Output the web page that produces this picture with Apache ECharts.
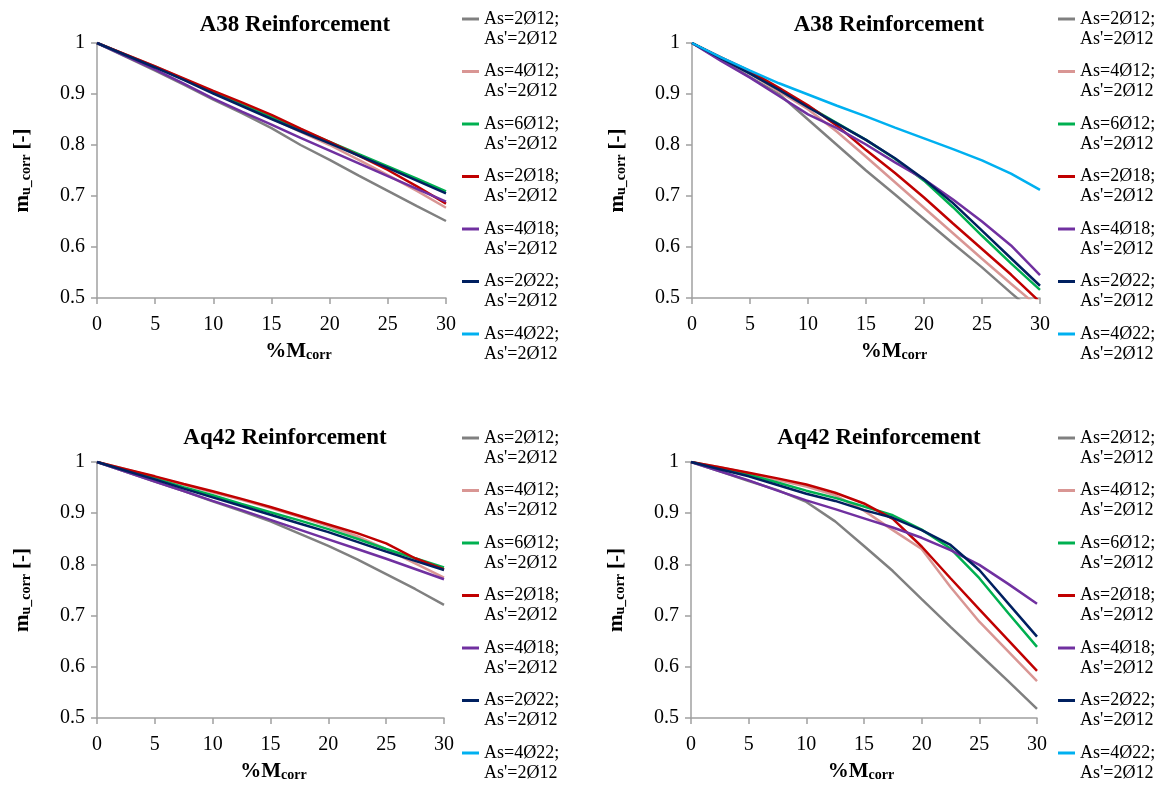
<!DOCTYPE html>
<html>
<head>
<meta charset="utf-8">
<script src="https://cdn.jsdelivr.net/npm/echarts@6/dist/echarts.min.js"></script>
<style>
  html, body { margin: 0; padding: 0; background: #fff; }
  #main { width: 1158px; height: 787px; }
</style>
</head>
<body>
<div id="main"></div>
<script>
// x values (% of corrosion)
var corrosion = [0, 2.5, 5, 7.5, 10, 12.5, 15, 17.5, 20, 22.5, 25, 27.5, 30];

var seriesNames = [
  "As=2Ø12;\nAs'=2Ø12",
  "As=4Ø12;\nAs'=2Ø12",
  "As=6Ø12;\nAs'=2Ø12",
  "As=2Ø18;\nAs'=2Ø12",
  "As=4Ø18;\nAs'=2Ø12",
  "As=2Ø22;\nAs'=2Ø12",
  "As=4Ø22;\nAs'=2Ø12"
];
var colors = ['#808080', '#d99694', '#00b050', '#c00000', '#7030a0', '#002060', '#00b0f0'];

var panelTitles = ['A38 Reinforcement', 'A38 Reinforcement', 'Aq42 Reinforcement', 'Aq42 Reinforcement'];

// top left - A38
var tl2d12 = [1, 0.973, 0.946, 0.918, 0.889, 0.862, 0.833, 0.800, 0.771, 0.740, 0.710, 0.680, 0.651];
var tl4d12 = [1, 0.977, 0.954, 0.929, 0.903, 0.878, 0.852, 0.826, 0.800, 0.771, 0.741, 0.710, 0.677];
var tl6d12 = [1, 0.976, 0.953, 0.928, 0.903, 0.879, 0.855, 0.830, 0.806, 0.782, 0.758, 0.734, 0.709];
var tl2d18 = [1, 0.977, 0.954, 0.930, 0.906, 0.883, 0.859, 0.832, 0.806, 0.779, 0.751, 0.719, 0.685];
var tl4d18 = [1, 0.974, 0.948, 0.920, 0.891, 0.865, 0.840, 0.814, 0.789, 0.764, 0.739, 0.714, 0.689];
var tl2d22 = [1, 0.976, 0.952, 0.927, 0.901, 0.876, 0.851, 0.827, 0.803, 0.779, 0.755, 0.730, 0.705];

// top right - A38
var tr2d12 = [1, 0.967, 0.933, 0.900, 0.850, 0.800, 0.750, 0.703, 0.655, 0.607, 0.560, 0.510, 0.462];
var tr4d12 = [1, 0.970, 0.940, 0.905, 0.870, 0.826, 0.777, 0.727, 0.677, 0.627, 0.577, 0.528, 0.480];
var tr6d12 = [1, 0.971, 0.942, 0.910, 0.876, 0.843, 0.810, 0.773, 0.730, 0.678, 0.622, 0.568, 0.516];
var tr2d18 = [1, 0.972, 0.945, 0.912, 0.878, 0.838, 0.790, 0.745, 0.697, 0.646, 0.596, 0.546, 0.492];
var tr4d18 = [1, 0.965, 0.932, 0.896, 0.860, 0.833, 0.801, 0.766, 0.733, 0.693, 0.650, 0.603, 0.545];
var tr2d22 = [1, 0.970, 0.940, 0.908, 0.874, 0.842, 0.810, 0.774, 0.733, 0.686, 0.632, 0.578, 0.524];
var tr4d22 = [1, 0.972, 0.946, 0.921, 0.899, 0.877, 0.856, 0.834, 0.813, 0.792, 0.770, 0.744, 0.712];

// bottom left - Aq42
var bl2d12 = [1, 0.981, 0.962, 0.943, 0.923, 0.904, 0.884, 0.860, 0.836, 0.810, 0.781, 0.752, 0.721];
var bl4d12 = [1, 0.986, 0.971, 0.956, 0.941, 0.926, 0.910, 0.893, 0.875, 0.855, 0.830, 0.802, 0.774];
var bl6d12 = [1, 0.984, 0.968, 0.951, 0.935, 0.918, 0.902, 0.886, 0.869, 0.850, 0.830, 0.812, 0.794];
var bl2d18 = [1, 0.986, 0.972, 0.957, 0.943, 0.928, 0.912, 0.895, 0.878, 0.861, 0.841, 0.812, 0.790];
var bl4d18 = [1, 0.981, 0.962, 0.943, 0.924, 0.906, 0.887, 0.868, 0.849, 0.830, 0.811, 0.791, 0.771];
var bl2d22 = [1, 0.983, 0.966, 0.948, 0.931, 0.914, 0.897, 0.880, 0.863, 0.844, 0.825, 0.807, 0.789];

// bottom right - Aq42
var br2d12 = [1, 0.982, 0.963, 0.945, 0.922, 0.884, 0.836, 0.787, 0.732, 0.678, 0.625, 0.572, 0.518];
var br4d12 = [1, 0.990, 0.978, 0.965, 0.952, 0.935, 0.905, 0.867, 0.830, 0.756, 0.688, 0.630, 0.572];
var br6d12 = [1, 0.988, 0.975, 0.960, 0.944, 0.930, 0.913, 0.896, 0.868, 0.831, 0.773, 0.705, 0.639];
var br2d18 = [1, 0.990, 0.979, 0.968, 0.956, 0.940, 0.919, 0.889, 0.835, 0.773, 0.712, 0.652, 0.592];
var br4d18 = [1, 0.982, 0.964, 0.944, 0.925, 0.908, 0.890, 0.872, 0.852, 0.828, 0.799, 0.762, 0.723];
var br2d22 = [1, 0.986, 0.972, 0.955, 0.938, 0.924, 0.906, 0.891, 0.867, 0.838, 0.789, 0.724, 0.659];

var panelData = [
  [tl2d12, tl4d12, tl6d12, tl2d18, tl4d18, tl2d22, null],
  [tr2d12, tr4d12, tr6d12, tr2d18, tr4d18, tr2d22, tr4d22],
  [bl2d12, bl4d12, bl6d12, bl2d18, bl4d18, bl2d22, null],
  [br2d12, br4d12, br6d12, br2d18, br4d18, br2d22, null]
];

// layout of the 4 panels (pixels)
var layout = [
  { left: 97,  top: 43,  width: 349, height: 255, titleX: 295, titleY: 14,  legX: 462,  legY: -11, nameShift: 27 },
  { left: 692, top: 43,  width: 348, height: 255, titleX: 889, titleY: 14,  legX: 1058, legY: -11, nameShift: 28 },
  { left: 97,  top: 462, width: 347, height: 256, titleX: 285, titleY: 427, legX: 462,  legY: 408, nameShift: 3 },
  { left: 691, top: 462, width: 346, height: 256, titleX: 879, titleY: 427, legX: 1058, legY: 408, nameShift: -3 }
];

var font = 'Liberation Serif';
var axisColor = '#a0a0a0';

var grids = [], xAxes = [], yAxes = [], titles = [], legends = [], series = [];

layout.forEach(function (p, k) {
  grids.push({ left: p.left, top: p.top, width: p.width, height: p.height, containLabel: false });
  titles.push({
    text: panelTitles[k], left: p.titleX, top: p.titleY, textAlign: 'center', padding: 0,
    textStyle: { fontFamily: font, fontWeight: 'bold', fontSize: 23, color: '#000' }
  });
  xAxes.push({
    gridIndex: k, type: 'value', min: 0, max: 30, interval: 5,
    name: '{m|%M}{s|corr}', nameLocation: 'middle', nameGap: 40,
    nameTextStyle: {
      padding: p.nameShift >= 0 ? [0, 0, 0, p.nameShift * 2] : [0, -p.nameShift * 2, 0, 0],
      rich: {
        m: { fontFamily: font, fontWeight: 'bold', fontSize: 21, color: '#000', verticalAlign: 'bottom', lineHeight: 24 },
        s: { fontFamily: font, fontWeight: 'bold', fontSize: 14, color: '#000', verticalAlign: 'bottom', lineHeight: 14 }
      }
    },
    axisLine: { lineStyle: { color: axisColor, width: 1.5 } },
    axisTick: { show: true, length: 6, lineStyle: { color: axisColor, width: 1.5 } },
    splitLine: { show: false },
    axisLabel: { fontFamily: font, fontSize: 20, color: '#000', margin: 17 }
  });
  yAxes.push({
    gridIndex: k, type: 'value', min: 0.5, max: 1, interval: 0.1,
    name: '{m|m}{s|u_corr}{m| [-]}', nameLocation: 'middle', nameGap: 64, nameRotate: 90,
    nameTextStyle: {
      rich: {
        m: { fontFamily: font, fontWeight: 'bold', fontSize: 21, color: '#000', verticalAlign: 'bottom', lineHeight: 24 },
        s: { fontFamily: font, fontWeight: 'bold', fontSize: 14, color: '#000', verticalAlign: 'bottom', lineHeight: 14 }
      }
    },
    axisLine: { show: true, lineStyle: { color: axisColor, width: 1.5 } },
    axisTick: { show: true, length: 6, lineStyle: { color: axisColor, width: 1.5 } },
    splitLine: { show: false },
    axisLabel: { fontFamily: font, fontSize: 20, color: '#000', margin: 12 }
  });
  legends.push({
    data: seriesNames, left: p.legX, top: p.legY, orient: 'vertical',
    padding: 0, itemGap: -7.5, itemWidth: 17, itemHeight: 3, icon: 'rect',
    selectedMode: false,
    // a blank first line keeps the icon level with the first text line
    formatter: function (name) { return '\n' + name; },
    textStyle: { fontFamily: font, fontSize: 18, color: '#000', lineHeight: 20 }
  });
  panelData[k].forEach(function (vals, i) {
    if (!vals) return;
    series.push({
      name: seriesNames[i], type: 'line', xAxisIndex: k, yAxisIndex: k,
      data: corrosion.map(function (x, j) { return [x, vals[j]]; }),
      showSymbol: false, symbol: 'none', smooth: false, clip: true,
      lineStyle: { color: colors[i], width: 2.5 },
      itemStyle: { color: colors[i] },
      animation: false
    });
  });
});

var chart = echarts.init(document.getElementById('main'));
chart.setOption({
  backgroundColor: '#ffffff',
  animation: false,
  title: titles,
  grid: grids,
  xAxis: xAxes,
  yAxis: yAxes,
  legend: legends,
  series: series
});
</script>
</body>
</html>
